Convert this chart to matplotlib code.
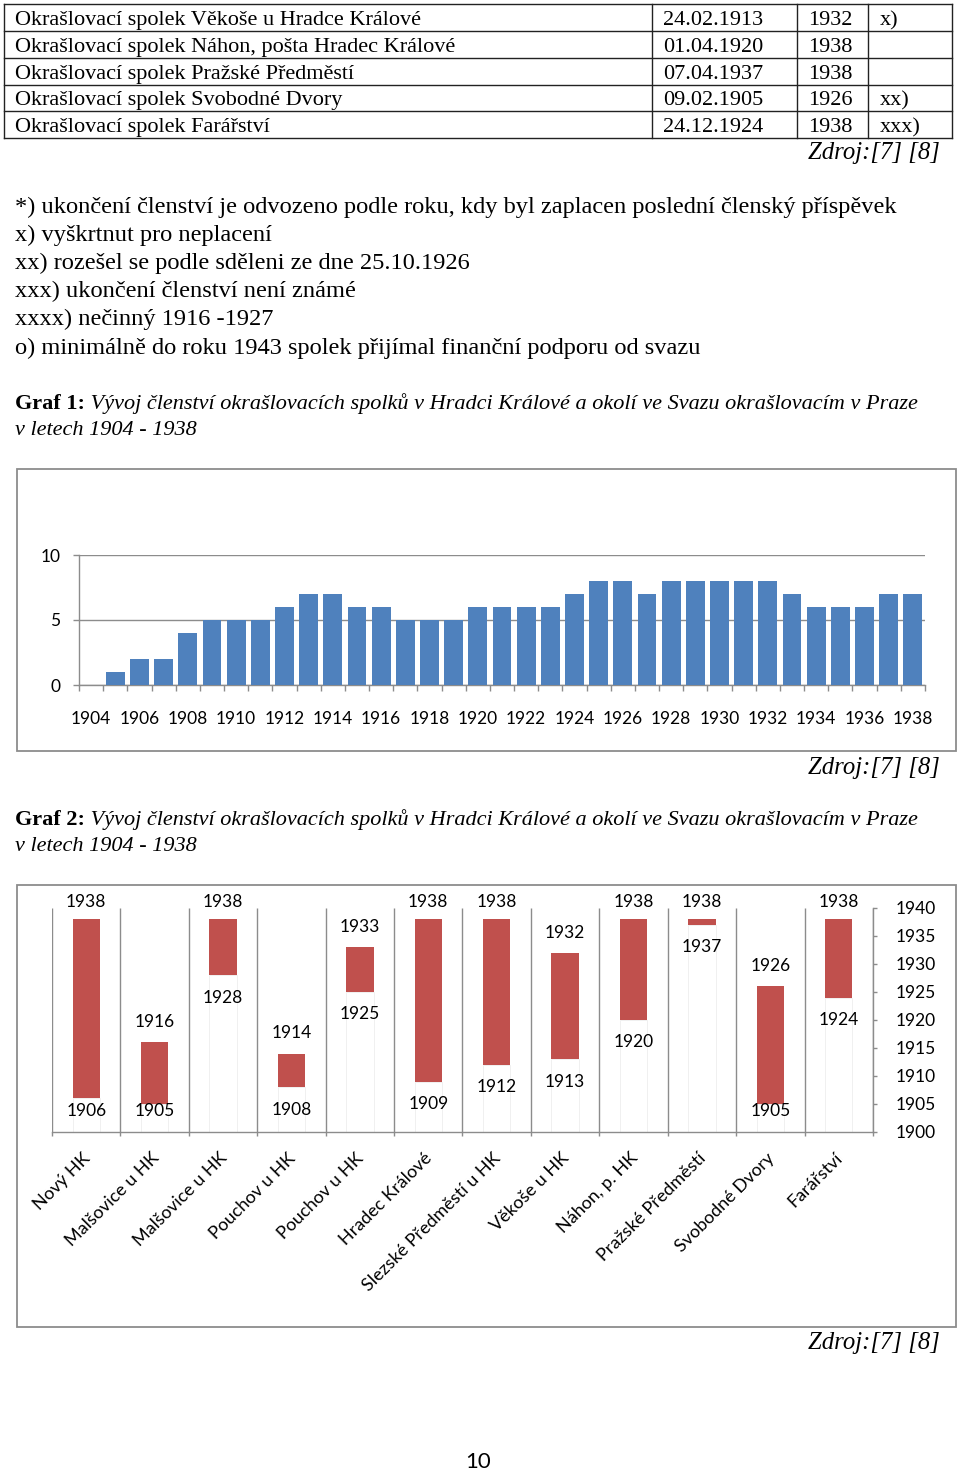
# -*- coding: utf-8 -*-
import matplotlib
matplotlib.use('Agg')
import matplotlib.pyplot as plt
from matplotlib.patches import Rectangle
import numpy as np

W, H = 960, 1473

# tabulka (konec tabulky z predchozi strany)
spolky = [u'Okrašlovací spolek Věkoše u Hradce Králové',
          u'Okrašlovací spolek Náhon, pošta Hradec Králové',
          u'Okrašlovací spolek Pražské Předměstí',
          u'Okrašlovací spolek Svobodné Dvory',
          u'Okrašlovací spolek Farářství']
data_vstupu = ['24.02.1913', '01.04.1920', '07.04.1937', '09.02.1905', '24.12.1924']
rok_konce = ['1932', '1938', '1938', '1926', '1938']
poznamky = ['x)', '', '', 'xx)', 'xxx)']

poznamky_pod = [u'*) ukončení členství je odvozeno podle roku, kdy byl zaplacen poslední členský příspěvek',
                u'x) vyškrtnut pro neplacení',
                u'xx) rozešel se podle sděleni ze dne 25.10.1926',
                u'xxx) ukončení členství není známé',
                u'xxxx) nečinný 1916 -1927',
                u'o) minimálně do roku 1943 spolek přijímal finanční podporu od svazu']

popis_grafu = u' Vývoj členství okrašlovacích spolků v Hradci Králové a okolí ve Svazu okrašlovacím v Praze'
popis_grafu_2 = u'v letech 1904 - 1938'
zdroj = u'Zdroj:[7] [8]'

# graf 1 - pocet spolku ve svazu v jednotlivych letech
roky = np.arange(1904, 1939)
pocet_spolku = [0, 1, 2, 2, 4, 5, 5, 5, 6, 7,
                7, 6, 6, 5, 5, 5, 6, 6, 6, 6,
                7, 8, 8, 7, 8, 8, 8, 8, 8, 7,
                6, 6, 6, 7, 7]

# graf 2 - obdobi clenstvi
mista = [u'Nový HK', u'Malšovice u HK', u'Malšovice u HK', u'Pouchov u HK',
         u'Pouchov u HK', u'Hradec Králové', u'Slezské Předměstí u HK',
         u'Věkoše u HK', u'Náhon, p. HK', u'Pražské Předměstí',
         u'Svobodné Dvory', u'Farářství']
zacatek = [1906, 1905, 1928, 1908, 1925, 1909, 1912, 1913, 1920, 1937, 1905, 1924]
konec = [1938, 1916, 1938, 1914, 1933, 1938, 1938, 1932, 1938, 1938, 1926, 1938]

SERIF = ['Liberation Serif', 'DejaVu Serif']
plt.rcParams['font.family'] = ['Lato', 'DejaVu Sans']
GRAY = '#8c8c8c'
BLUE = '#4f81bd'
RED = '#c0504d'

fig = plt.figure(figsize=(W / 100., H / 100.), dpi=100)

page = fig.add_axes([0, 0, 1, 1])
page.set_xlim(0, W)
page.set_ylim(H, 0)
page.axis('off')


def fig_axes(x0, y0, x1, y1):
    return fig.add_axes([x0 / float(W), 1 - y1 / float(H),
                         (x1 - x0) / float(W), (y1 - y0) / float(H)])


def ptext(x, y, s, **kw):
    kw.setdefault('family', SERIF)
    kw.setdefault('fontsize', 16)
    kw.setdefault('va', 'center')
    return page.text(x, y, s, **kw)


# tabulka
row_lines = [4, 31, 58, 85, 111, 138]
col_lines = [3.5, 651.5, 797, 868, 951.5]
for y in row_lines:
    page.plot([col_lines[0], col_lines[-1]], [y, y], color='#222222', lw=1.0)
for x in col_lines:
    page.plot([x, x], [row_lines[0], row_lines[-1]], color='#222222', lw=1.0)
for i in range(len(spolky)):
    yb = row_lines[i + 1] - 6
    ptext(15, yb, spolky[i], va='baseline')
    ptext(663, yb, data_vstupu[i], va='baseline')
    ptext(808, yb, rok_konce[i], va='baseline')
    ptext(880, yb, poznamky[i], va='baseline')
ptext(940, 153, zdroj, ha='right', style='italic', fontsize=17.8)

for i, line in enumerate(poznamky_pod):
    ptext(15, 207 + i * 28.2, line, fontsize=17.6)


def caption(y, num):
    t = ptext(15, y, u'Graf %d:' % num, weight='bold', va='bottom')
    page.annotate(popis_grafu, xy=(1, 0), xycoords=t, va='bottom', ha='left',
                  family=SERIF, fontsize=16, style='italic')
    ptext(15, y + 26, popis_grafu_2, style='italic', va='bottom')


caption(414, 1)
caption(830, 2)

# ramecky grafu
for y0, y1 in ((469, 751), (885, 1327)):
    page.add_patch(Rectangle((17, y0), 939, y1 - y0, fill=False,
                             edgecolor=GRAY, lw=1.3))

ptext(940, 768, zdroj, ha='right', style='italic', fontsize=17.8)
ptext(940, 1343, zdroj, ha='right', style='italic', fontsize=17.8)
ptext(478, 1462, '10', ha='center', family=['Lato', 'DejaVu Sans'], fontsize=16)

# graf 1
ax1 = fig_axes(79, 555, 925, 685)
ax1.patch.set_alpha(0)
x = np.arange(len(roky))
ax1.bar(x, pocet_spolku, width=0.78, color=BLUE, zorder=3)
ax1.set_xlim(-0.5, len(roky) - 0.5)
ax1.set_ylim(0, 10)
ax1.set_yticks([0, 5, 10])
ax1.yaxis.grid(True, color=GRAY, lw=1.0)
ax1.set_axisbelow(True)
ax1.set_xticks(x[::2])
ax1.set_xticklabels([str(r) for r in roky[::2]])
ax1.set_xticks(np.arange(len(roky) + 1) - 0.5, minor=True)
ax1.tick_params(axis='x', which='major', length=0, pad=19, labelsize=12.5)
ax1.tick_params(axis='x', which='minor', length=4, width=1, color=GRAY)
ax1.tick_params(axis='y', length=4.5, width=1, color=GRAY, pad=9, labelsize=12.5)
for s in ('top', 'right'):
    ax1.spines[s].set_visible(False)
for s in ('left', 'bottom'):
    ax1.spines[s].set_color(GRAY)
    ax1.spines[s].set_linewidth(1.0)

# graf 2
ax2 = fig_axes(52, 908, 873, 1132)
ax2.patch.set_alpha(0)
n = len(mista)
xc = np.arange(n) + 0.5
zac = np.array(zacatek)
kon = np.array(konec)
ax2.bar(xc, zac - 1900, bottom=1900, width=0.4, facecolor='none',
        edgecolor='#f0f0f0', lw=0.7, zorder=1)
ax2.bar(xc, kon - zac, bottom=zac, width=0.4, color=RED, zorder=3)
ax2.set_xlim(0, n)
ax2.set_ylim(1900, 1940)
ax2.vlines(np.arange(n + 1), 1900, 1940, color=GRAY, lw=1.0, zorder=2)
for i in range(n):
    ax2.text(xc[i], min(kon[i] + 3.6, 1941.0), str(kon[i]),
             ha='center', va='center', fontsize=12.5)
    ax2.text(xc[i], max(zac[i] - 4.0, 1903.8), str(zac[i]),
             ha='center', va='center', fontsize=12.5)
    # popisky kategorii
    ax2.annotate(mista[i], xy=(xc[i], 1900), xytext=(-3, -13),
                 textcoords='offset points', rotation=45, ha='right',
                 va='top', rotation_mode='anchor', fontsize=13,
                 annotation_clip=False)
ax2.yaxis.tick_right()
ax2.set_yticks(np.arange(1900, 1941, 5))
ax2.tick_params(axis='y', length=3, width=1, color=GRAY, pad=13, labelsize=12.5)
ax2.set_xticks(np.arange(n + 1))
ax2.set_xticklabels([])
ax2.tick_params(axis='x', length=3, width=1, color=GRAY)
for s in ('top', 'left'):
    ax2.spines[s].set_visible(False)
for s in ('right', 'bottom'):
    ax2.spines[s].set_color(GRAY)
    ax2.spines[s].set_linewidth(1.0)

fig.savefig('out.png', dpi=100)
